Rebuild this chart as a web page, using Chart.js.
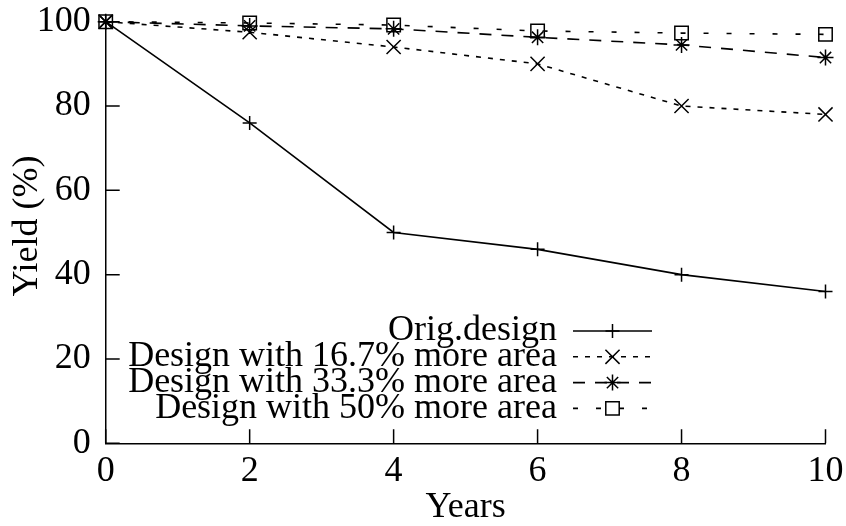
<!DOCTYPE html>
<html>
<head>
<meta charset="utf-8">
<script src="https://cdn.jsdelivr.net/npm/chart.js@4/dist/chart.umd.min.js"></script>
<style>
  html, body { margin: 0; padding: 0; background: #fff; }
  #c { display: block; }
</style>
</head>
<body>
<canvas id="c" width="846" height="526"></canvas>
<script>
// Yield over time for the original design and three enlarged variants
const years = [0, 2, 4, 6, 8, 10];
const origDesign = [100, 76, 50, 46, 40, 36];
const area167 = [100, 97.5, 94, 90, 80, 78];
const area333 = [100, 99, 98.3, 96.3, 94.5, 91.5];
const area50 = [100, 99.7, 99.2, 97.8, 97.3, 97];
const seriesLabels = [
  'Orig.design',
  'Design with 16.7% more area',
  'Design with 33.3% more area',
  'Design with 50% more area'
];
const xTickValues = [0, 2, 4, 6, 8, 10];
const yTickValues = [0, 20, 40, 60, 80, 100];
const xTitle = 'Years';
const yTitle = 'Yield (%)';

const FONT_FAMILY = '"Liberation Serif", "Times New Roman", serif';
const FONT_SIZE = 36;
const INK = '#000';

function toPoints(values) {
  return years.map((x, i) => ({ x, y: values[i] }));
}

function series(label, values, dash, pointStyle, radius) {
  return {
    label,
    data: toPoints(values),
    borderColor: INK,
    borderWidth: 1.6,
    borderDash: dash,
    pointStyle,
    pointRadius: radius,
    pointHoverRadius: radius,
    pointBorderWidth: 1.5,
    pointBorderColor: INK,
    pointBackgroundColor: 'rgba(0,0,0,0)',
    fill: false,
    tension: 0,
    clip: false
  };
}

// Inward tick marks on the left and bottom axes, the y title and the in-plot key
const frame = {
  id: 'frame',
  afterDatasetsDraw(chart) {
    const { ctx, chartArea, scales } = chart;
    const tick = 14;
    ctx.save();
    ctx.strokeStyle = INK;
    ctx.lineWidth = 1.5;
    ctx.setLineDash([]);
    ctx.beginPath();
    xTickValues.forEach(v => {
      const px = scales.x.getPixelForValue(v);
      ctx.moveTo(px, chartArea.bottom);
      ctx.lineTo(px, chartArea.bottom - tick);
    });
    yTickValues.forEach(v => {
      const py = scales.y.getPixelForValue(v);
      ctx.moveTo(chartArea.left, py);
      ctx.lineTo(chartArea.left + tick, py);
    });
    ctx.stroke();

    ctx.font = FONT_SIZE + 'px ' + FONT_FAMILY;
    ctx.fillStyle = INK;
    ctx.textBaseline = 'middle';

    // rotated y-axis title, sitting a little above the middle of the frame
    ctx.save();
    ctx.translate(28, (chartArea.top + chartArea.bottom) / 2 - 6.5);
    ctx.rotate(-Math.PI / 2);
    ctx.textAlign = 'center';
    ctx.fillText(yTitle, 0, 0);
    ctx.restore();

    // key
    const textRight = 557;
    const lineStart = 573;
    const lineEnd = 652;
    const firstRow = 331;
    const rowStep = 25.8;
    ctx.textAlign = 'right';
    chart.data.datasets.forEach((ds, i) => {
      const y = firstRow + i * rowStep;
      ctx.fillText(ds.label, textRight, y);
      ctx.save();
      ctx.lineWidth = ds.borderWidth;
      ctx.setLineDash(ds.borderDash || []);
      ctx.beginPath();
      ctx.moveTo(lineStart, y);
      ctx.lineTo(lineEnd, y);
      ctx.stroke();
      ctx.setLineDash([]);
      ctx.lineWidth = ds.pointBorderWidth;
      ctx.fillStyle = 'rgba(0,0,0,0)';
      Chart.helpers.drawPoint(ctx, {
        pointStyle: ds.pointStyle,
        radius: ds.pointRadius,
        rotation: 0,
        borderWidth: ds.pointBorderWidth
      }, (lineStart + lineEnd) / 2, y);
      ctx.restore();
    });
    ctx.restore();
  }
};

const tickFont = { family: FONT_FAMILY, size: FONT_SIZE, lineHeight: 1.2 };
const titleFont = { family: FONT_FAMILY, size: FONT_SIZE, lineHeight: 1 };

// keep the plot frame fixed: axis boxes get exact sizes and no label overhang
function fixX(s) {
  s.height = 82.7;
  s.paddingLeft = 0; s.paddingRight = 0; s.paddingTop = 0; s.paddingBottom = 0;
}
function fixY(s) {
  s.width = 105.7;
  s.paddingLeft = 0; s.paddingRight = 0; s.paddingTop = 0; s.paddingBottom = 0;
}

new Chart(document.getElementById('c'), {
  type: 'line',
  data: {
    datasets: [
      series(seriesLabels[0], origDesign, [], 'cross', 7),
      series(seriesLabels[1], area167, [5, 7], 'crossRot', 10),
      series(seriesLabels[2], area333, [12, 10], 'star', 8),
      series(seriesLabels[3], area50, [5, 18], 'rect', 9.5)
    ]
  },
  options: {
    responsive: false,
    animation: false,
    devicePixelRatio: 1,
    layout: { padding: { top: 21.7, right: 20.5, left: 0, bottom: 0 } },
    plugins: {
      legend: { display: false },
      tooltip: { enabled: false }
    },
    scales: {
      x: {
        type: 'linear',
        min: 0,
        max: 10,
        afterBuildTicks: s => { s.ticks = xTickValues.map(v => ({ value: v })); },
        afterFit: fixX,
        ticks: { color: INK, font: tickFont, padding: 6.6, maxRotation: 0 },
        grid: { display: false, drawTicks: false },
        border: { display: true, color: INK, width: 1.5 },
        title: { display: true, text: xTitle, color: INK, font: titleFont, padding: { top: 0, bottom: 0 } }
      },
      y: {
        type: 'linear',
        min: 0,
        max: 100,
        afterBuildTicks: s => { s.ticks = yTickValues.map(v => ({ value: v })); },
        afterFit: fixY,
        ticks: { color: INK, font: tickFont, padding: 15 },
        grid: { display: false, drawTicks: false },
        border: { display: true, color: INK, width: 1.5 },
        title: { display: false }
      }
    }
  },
  plugins: [frame]
});
</script>
</body>
</html>
